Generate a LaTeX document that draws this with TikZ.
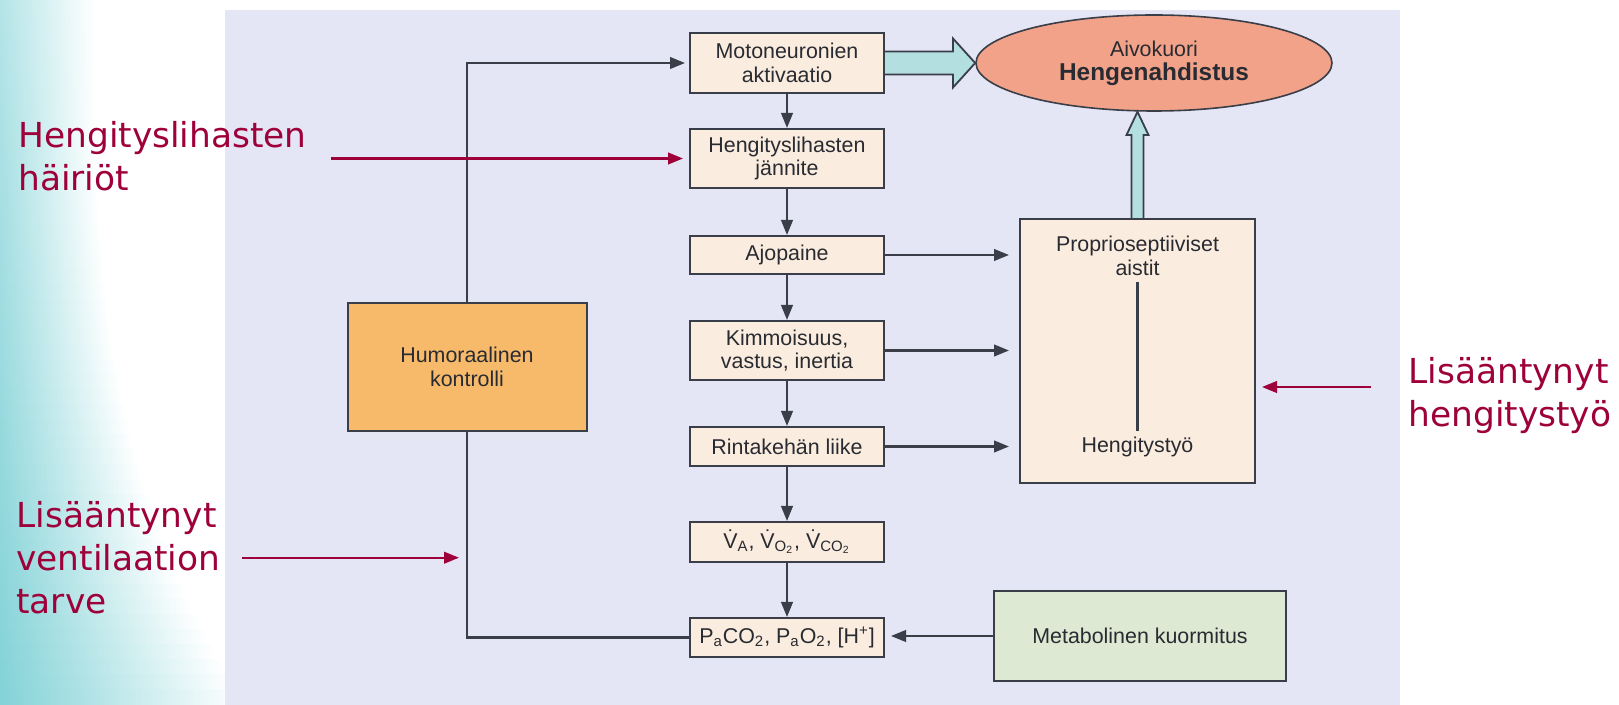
\documentclass[tikz,border=0pt]{standalone}
\usepackage{fontspec}
\setmainfont{Liberation Sans}
\newfontfamily\notefont{DejaVu Sans}
\usetikzlibrary{positioning,calc,shapes.geometric,arrows.meta}

\definecolor{panel}{RGB}{228,230,245}
\definecolor{peach}{RGB}{250,236,222}
\definecolor{humor}{RGB}{246,186,106}
\definecolor{salmon}{RGB}{241,162,136}
\definecolor{mint}{RGB}{221,233,211}
\definecolor{aqua}{RGB}{180,223,224}
\definecolor{wine}{RGB}{158,0,58}
\definecolor{ink}{RGB}{58,62,72}
\definecolor{lagoon}{RGB}{130,210,215}

\begin{document}
\begin{tikzpicture}[x=0.5pt,y=-0.5pt,>={Triangle[length=7.5pt,width=5.8pt]}]
            \tikzstyle{box}=[draw=ink, line width=1pt, fill=peach, text=ink!70!black,
            minimum width=97pt, align=center, inner sep=0pt,
            font=\fontsize{10.7}{11.8}\selectfont]
            \tikzstyle{txt}=[text=ink!70!black, align=center, inner sep=3pt,
            font=\fontsize{10.7}{11.8}\selectfont]
            \tikzstyle{note}=[text=wine, align=left, inner sep=0pt, anchor=north west,
            font=\notefont\fontsize{17.2}{21.5}\selectfont]
            \tikzstyle{link}=[draw=ink, line width=1.1pt]
            \tikzstyle{hint}=[draw=wine, line width=1.1pt]
            \tikzstyle{fat}=[fill=aqua, draw=ink, line width=0.9pt]
            \useasboundingbox (0,0) rectangle (1619,705);
            \begin{scope}
            \clip (0,0) rectangle (226,705);
            \foreach \i [evaluate=\i as \p using 60+40*((15*\i+7.5)/705),
                         evaluate=\i as \w using 95+150*((15*\i+7.5)/705)^3] in {0,...,46}
            \shade[left color=lagoon!\p!white, right color=white] (0,15*\i) rectangle (\w,15*\i+15.6);
            \end{scope}
            \fill[panel] (225,10) rectangle (1400,705);
            \node[box, minimum height=30pt] (mot) at (787,63) {Motoneuronien\\aktivaatio};
            \node[box, minimum height=29.5pt] (jan) at (787,158.5) {Hengityslihasten\\jännite};
            \node[box, minimum height=19pt] (ajo) at (787,255) {Ajopaine};
            \node[box, minimum height=29.5pt] (kim) at (787,350.5) {Kimmoisuus,\\vastus, inertia};
            \node[box, minimum height=19.5pt] (rin) at (787,446.5) {Rintakehän liike};
            \node[box, minimum height=20pt] (vent) at (787,542)
            {\.{V}\textsubscript{A}, \.{V}\textsubscript{O\textsubscript{2}}, \.{V}\textsubscript{CO\textsubscript{2}}};
            \node[box, minimum height=19.5pt] (gas) at (787,637.5)
            {P\textsubscript{a}CO\textsubscript{2}, P\textsubscript{a}O\textsubscript{2}, [H\textsuperscript{+}]};
            \node[box, fill=humor, minimum width=119.5pt, minimum height=64pt] (hum) at (467,367)
            {Humoraalinen\\kontrolli};
            \node[ellipse, draw=ink, line width=0.8pt, fill=salmon, text=ink!70!black, align=center,
            minimum width=178pt, minimum height=48pt, inner sep=0pt] (cor) at (1154,63)
            {{\fontsize{10.7}{12}\selectfont Aivokuori}\\{\fontsize{12.2}{14}\selectfont\bfseries Hengenahdistus}};
            \node[box, minimum width=117.5pt, minimum height=132pt] (pro) at (1137.5,351) {};
            \node[box, fill=mint, minimum width=146pt, minimum height=45pt] (met) at (1140,636)
            {Metabolinen kuormitus};
            \node[txt] (aist) at (1137.5,256) {Proprioseptiiviset\\aistit};
            \node[txt] (tyo) at (1137.5,447) {Hengitystyö};
            \node[note] (lab1) at (18,121) {Hengityslihasten\\häiriöt};
            \node[note] (lab2) at (16,501) {Lisääntynyt\\ventilaation\\tarve};
            \node[note] (lab3) at (1408,357) {Lisääntynyt\\hengitystyö};
            \coordinate (w3) at (1371,387);
            \draw[link] (aist) -- (tyo);
            \draw[link,->] (mot) -- (jan);
            \draw[link,->] (jan) -- (ajo);
            \draw[link,->] (ajo) -- (kim);
            \draw[link,->] (kim) -- (rin);
            \draw[link,->] (rin) -- (vent);
            \draw[link,->] (vent) -- (gas);
            \draw[link,->,shorten >=5pt] (ajo.east) -- (ajo.east -| pro.west);
            \draw[link,->,shorten >=5pt] (kim.east) -- (kim.east -| pro.west);
            \draw[link,->,shorten >=5pt] (rin.east) -- (rin.east -| pro.west);
            \draw[link,->,shorten >=3pt] (met.west) -- (met.west -| gas.east);
            \draw[link,->,shorten >=2pt] (hum.north) |- (mot.west);
            \draw[link] (hum.south) |- (gas.west);
            \draw[hint,->,shorten <=12pt,shorten >=3pt] (lab1.east |- jan.west) -- (jan.west);
            \draw[hint,->,shorten <=10.5pt,shorten >=4pt] (lab2.east) -- (lab2.east -| hum.south);
            \draw[hint,->,shorten >=3pt] (w3) -- (w3 -| pro.east);
            \draw[fat] ($(mot.east)+(0,-11.5)$) -- ($(mot.east)+(68,-11.5)$) -- ($(mot.east)+(68,-24.5)$)
            -- (cor.west) -- ($(mot.east)+(68,24.5)$) -- ($(mot.east)+(68,11.5)$) -- ($(mot.east)+(0,11.5)$);
            \draw[fat] ($(pro.north)+(-6,0)$) -- ($(pro.north)+(-6,-83)$) -- ($(pro.north)+(-11,-83)$)
            -- (pro.north |- cor.south) -- ($(pro.north)+(11,-83)$) -- ($(pro.north)+(6,-83)$) -- ($(pro.north)+(6,0)$);
\end{tikzpicture}
\end{document}
